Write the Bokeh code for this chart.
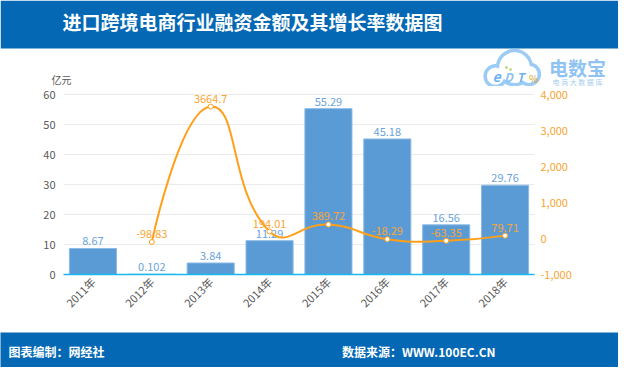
import math
from bokeh.plotting import figure
from bokeh.models import Range1d, LinearAxis, FixedTicker, NumeralTickFormatter
from bokeh.layouts import column, row
from bokeh.embed import file_html
from bokeh.resources import INLINE
from bokeh.core.properties import value

# ---------------- data ----------------
years = ["2011年", "2012年", "2013年", "2014年", "2015年", "2016年", "2017年", "2018年"]
amounts = [8.67, 0.102, 3.84, 11.29, 55.29, 45.18, 16.56, 29.76]
amount_labels = ["8.67", "0.102", "3.84", "11.29", "55.29", "45.18", "16.56", "29.76"]
growth_years = ["2012年", "2013年", "2014年", "2015年", "2016年", "2017年", "2018年"]
growth = [-98.83, 3664.7, 194.01, 389.72, -18.29, -63.35, 79.71]
growth_labels = ["-98.83", "3664.7", "194.01", "389.72", "-18.29", "-63.35", "79.71"]
left_ticks = [0, 10, 20, 30, 40, 50, 60]
right_ticks = [-1000, 0, 1000, 2000, 3000, 4000]

FONT = "Noto Sans CJK SC"
BLUE_BG = "#0468b4"
BAR = "#5b9bd5"
ORANGE = "#ff9f1a"
ORANGE_TXT = "#f7a533"
LOGO = "#8ec3f3"
W = 618
HEAD_H = 48
BAND_H = 38


def blank(h, bg):
    f = figure(width=W, height=h, x_range=(0, W), y_range=(0, h), min_border=0,
               x_axis_type=None, y_axis_type=None,
               toolbar_location=None, output_backend="svg")
    f.grid.visible = False
    f.outline_line_color = None
    f.background_fill_color = bg
    f.border_fill_color = bg
    return f


def txt(f, x, y, t, size, color, style="normal", align="center"):
    f.text(x=[x], y=[y], text=[t], text_font=value(FONT), text_font_size=size,
           text_color=color, text_font_style=style, text_align=align,
           text_baseline="middle")


# ---------------- header + unit band ----------------
TOP_H = HEAD_H + BAND_H
top = blank(TOP_H, "white")
top.quad(left=[0], right=[W], bottom=[BAND_H], top=[TOP_H], fill_color=BLUE_BG,
         line_color=None)
txt(top, 252, TOP_H - 21, "进口跨境电商行业融资金额及其增长率数据图", "19px", "white", "bold")
txt(top, 61, 7, "亿元", "10px", "#595959")
# watermark logo
cx = [495, 514, 528.5]
cy = [10.3, 18.9, 12.2]
cr = [9.6, 16.3, 9.6]
top.circle(x=cx, y=cy, radius=[r + 2.5 for r in cr], fill_color="#9ccbf5", line_color=None)
top.circle(x=cx, y=cy, radius=[r - 1.0 for r in cr], fill_color="white", line_color=None)
txt(top, 496, 10.5, "e", "14px", "#6fb3ee", "bold italic")
txt(top, 508, 10.5, "D", "12px", "#8cc1f2", "bold italic")
txt(top, 520, 10.5, "T", "12px", "#6fb3ee", "bold italic")
top.circle(x=[506, 510], y=[19, 17], radius=1.2, fill_color="#a8cf5d", line_color=None)
txt(top, 533, 8.5, "%", "10px", "#d9a520")
txt(top, 577, 19, "电数宝", "19px", LOGO, "bold")
txt(top, 577, 4.5, "电 商 大 数 据 库", "7px", "#a5ccef")

# ---------------- main chart ----------------
ML, MR, MB = 63, 84, 58
MH = 284 - BAND_H
GRID_TOP_GAP = 46 - BAND_H   # pixels between frame top and the 60 gridline
fh_full = MH - MB
fh = fh_full - GRID_TOP_GAP  # pixel height of 0..60
ytop = 60 * fh_full / fh
ptop = -1000 + 5000 * fh_full / fh

p = figure(width=W, height=MH, x_range=Range1d(-0.5, 7.5), y_range=Range1d(0, ytop),
           min_border_left=ML, min_border_right=MR, min_border_top=0, min_border_bottom=MB,
           toolbar_location=None, output_backend="svg")
p.extra_y_ranges = {"pct": Range1d(-1000, ptop)}
p.outline_line_color = None
p.xgrid.visible = False
p.ygrid.ticker = FixedTicker(ticks=left_ticks)
p.ygrid.grid_line_color = "#ebebeb"

xs = list(range(len(years)))
gx = [years.index(y) for y in growth_years]

p.vbar(x=xs, top=amounts, width=0.8, fill_color=BAR, line_color="#8dbbe6", line_width=1)
p.text(x=xs, y=amounts, text=amount_labels, text_font=value(FONT), text_font_size="11px",
       text_color="#6aa3dc", text_align="center", text_baseline="bottom", y_offset=-3)

# smooth curve (echarts-like smoothing computed in pixel space)
fw = W - ML - MR
sx = fw / 8.0
sy = fh / 5000.0
P = [(x * sx, y * sy) for x, y in zip(gx, growth)]
n = len(P)
smooth = 0.5


def ctrl(i):
    px, py = P[i]
    qx, qy = P[i - 1]
    rx, ry = P[i + 1]
    vx, vy = rx - qx, ry - qy
    d0 = math.hypot(px - qx, py - qy)
    d1 = math.hypot(px - rx, py - ry)
    r = d1 / (d0 + d1)
    before = (px - vx * smooth * (1 - r), py - vy * smooth * (1 - r))
    after = (px + vx * smooth * r, py + vy * smooth * r)
    return before, after


bx0, by0, bx1, by1, cx0, cy0, cx1, cy1 = [], [], [], [], [], [], [], []
for i in range(n - 1):
    a = P[i] if i == 0 else ctrl(i)[1]
    b = P[i + 1] if i + 1 == n - 1 else ctrl(i + 1)[0]
    bx0.append(P[i][0] / sx); by0.append(P[i][1] / sy)
    bx1.append(P[i + 1][0] / sx); by1.append(P[i + 1][1] / sy)
    cx0.append(a[0] / sx); cy0.append(a[1] / sy)
    cx1.append(b[0] / sx); cy1.append(b[1] / sy)
p.bezier(x0=bx0, y0=by0, x1=bx1, y1=by1, cx0=cx0, cy0=cy0, cx1=cx1, cy1=cy1,
         line_color=ORANGE, line_width=2, y_range_name="pct")
p.scatter(x=gx, y=growth, size=5, fill_color="white", line_color=ORANGE, line_width=1,
          y_range_name="pct")
p.text(x=gx, y=growth, text=growth_labels, text_font=value(FONT), text_font_size="11px",
       text_color=ORANGE_TXT, text_align="center", text_baseline="bottom", y_offset=-4,
       y_range_name="pct")

# axes
xa = p.xaxis[0]
xa.ticker = FixedTicker(ticks=xs)
xa.major_label_overrides = {i: y for i, y in zip(xs, years)}
xa.major_label_orientation = math.pi / 4
xa.axis_line_color = "#1ab8f0"
xa.axis_line_width = 1.5
xa.major_tick_line_color = None
xa.minor_tick_line_color = None
xa.major_tick_out = 0
xa.major_label_standoff = 5
xa.major_label_text_font = FONT
xa.major_label_text_font_size = "11px"
xa.major_label_text_color = "#595959"

ya = p.yaxis[0]
ya.ticker = FixedTicker(ticks=left_ticks)
ya.axis_line_color = None
ya.major_tick_line_color = None
ya.minor_tick_line_color = None
ya.major_tick_out = 0
ya.major_label_standoff = 8
ya.major_label_text_font = FONT
ya.major_label_text_font_size = "11px"
ya.major_label_text_color = "#595959"

ra = LinearAxis(y_range_name="pct", ticker=FixedTicker(ticks=right_ticks),
                formatter=NumeralTickFormatter(format="0,0"))
ra.axis_line_color = None
ra.major_tick_line_color = None
ra.minor_tick_line_color = None
ra.major_tick_out = 0
ra.major_label_standoff = 6
ra.major_label_text_font = FONT
ra.major_label_text_font_size = "11px"
ra.major_label_text_color = ORANGE_TXT
p.add_layout(ra, "right")

# ---------------- footer ----------------
footer = blank(35, BLUE_BG)
txt(footer, 8, 16, "图表编制：网经社", "12px", "white", "bold", "left")
txt(footer, 495, 16, "数据来源：WWW.100EC.CN", "12px", "white", "bold", "right")

layout = column(top, row(p), footer, spacing=0)
open("out.html", "w").write(file_html(layout, INLINE))
